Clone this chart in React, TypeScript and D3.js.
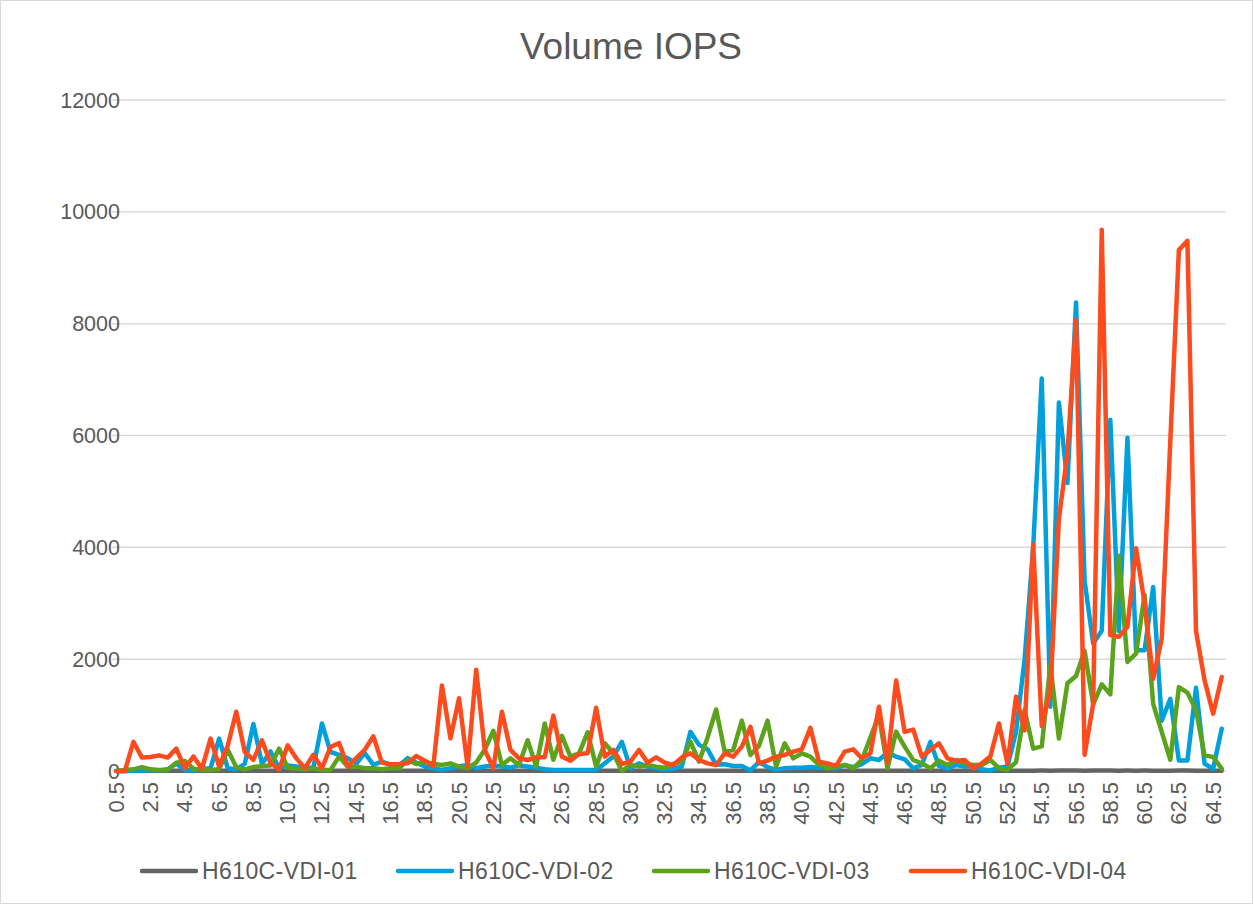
import React from "react";
import * as d3 from "d3";

const categories: number[] = d3.range(0.5, 65.01, 0.5);
const seriesNames = ["H610C-VDI-01", "H610C-VDI-02", "H610C-VDI-03", "H610C-VDI-04"];
const seriesColors = ["#646464", "#00A0DC", "#5BA31C", "#FD4B1E"];
const yTicks = [0, 2000, 4000, 6000, 8000, 10000, 12000];

const vdi01 = [
  0, 2, 3, 3, 4, 3, 4, 5, 4, 3,
  3, 4, 5, 4, 3, 4, 5, 4, 4, 3,
  4, 5, 4, 3, 5, 4, 4, 3, 4, 5,
  4, 3, 4, 4, 5, 4, 3, 4, 5, 4,
  4, 3, 5, 4, 4, 5, 4, 3, 4, 4,
  5, 4, 3, 4, 4, 5, 4, 4, 3, 4,
  5, 4, 4, 3, 4, 5, 4, 4, 5, 4,
  3, 4, 4, 5, 4, 4, 3, 4, 5, 4,
  4, 3, 4, 5, 4, 4, 5, 4, 3, 4,
  5, 4, 4, 3, 4, 5, 4, 4, 3, 4,
  5, 4, 3, 4, 4, 5, 6, 6, 7, 6,
  7, 8, 8, 6, 7, 8, 7, 6, 7, 6,
  7, 6, 5, 6, 7, 7, 6, 5, 5, 5,
];

const vdi02 = [
  0, 0, 10, 10, 20, 10, 30, 130, 20, 10,
  40, 50, 580, 50, 30, 130, 840, 130, 350, 50,
  100, 80, 60, 60, 850, 340, 290, 230, 130, 320,
  110, 170, 110, 100, 230, 150, 80, 50, 20, 50,
  80, 110, 50, 80, 100, 80, 60, 100, 80, 60,
  30, 20, 20, 20, 20, 20, 20, 137, 257, 520,
  48, 137, 80, 50, 20, 40, 80, 700, 470, 390,
  110, 120, 90, 90, 10, 160, 70, 20, 50, 60,
  60, 70, 60, 70, 50, 107, 70, 125, 227, 197,
  330, 257, 209, 48, 107, 520, 90, 40, 107, 78,
  90, 30, 10, 60, 80, 700, 2000, 4000, 7020, 1150,
  6590, 5150, 8380, 3400, 2280, 2510, 6280, 2500, 5960, 2160,
  2160, 3290, 900, 1290, 190, 190, 1490, 130, 40, 757,
];

const vdi03 = [
  0, 20, 30, 70, 30, 20, 20, 150, 180, 40,
  20, 20, 30, 380, 70, 30, 70, 90, 100, 400,
  60, 40, 30, 50, 20, 20, 257, 78, 78, 48,
  48, 30, 48, 48, 197, 125, 167, 125, 107, 137,
  78, 48, 150, 380, 720, 107, 227, 107, 550, 78,
  850, 200, 630, 257, 316, 690, 78, 495, 316, 0,
  107, 78, 107, 78, 60, 125, 167, 525, 167, 600,
  1100, 346, 376, 900, 287, 450, 900, 78, 495, 227,
  316, 257, 107, 48, 78, 107, 48, 197, 600, 1000,
  48, 704, 436, 197, 137, 48, 185, 107, 197, 137,
  107, 107, 197, 50, 20, 160, 1090, 400, 440, 1900,
  580, 1570, 1700, 2150, 1190, 1550, 1370, 3850, 1950, 2100,
  3150, 1200, 700, 200, 1500, 1400, 1090, 280, 250, 42,
];

const vdi04 = [
  0, 0, 520, 240, 250, 280, 240, 400, 50, 260,
  40, 580, 80, 450, 1060, 340, 200, 550, 140, 30,
  460, 230, 50, 290, 50, 430, 500, 80, 230, 380,
  620, 150, 120, 125, 137, 268, 185, 90, 1530, 585,
  1300, 78, 1810, 376, 48, 1060, 376, 227, 197, 245,
  245, 990, 257, 185, 304, 316, 1130, 257, 376, 125,
  167, 376, 150, 245, 150, 107, 245, 316, 197, 137,
  107, 316, 257, 436, 790, 137, 185, 257, 287, 346,
  388, 770, 167, 137, 90, 346, 388, 227, 316, 1150,
  150, 1620, 700, 740, 257, 376, 495, 227, 185, 197,
  48, 137, 257, 850, 131, 1330, 727, 4050, 800, 1442,
  4512, 5683, 8065, 290, 1200, 9680, 2430, 2400, 2580, 3985,
  3000, 1651, 2366, 5900, 9315, 9482, 2500, 1621, 1025, 1680,
];

const seriesData = [vdi01, vdi02, vdi03, vdi04];

const W = 1254;
const H = 906;
const FONT = "'Liberation Sans', Arial, sans-serif";
const TEXT = "#595959";

export default function App() {
  const x = d3
    .scaleBand<number>()
    .domain(categories)
    .range([112, 1226])
    .padding(0);
  const y = d3.scaleLinear().domain([0, 12000]).range([771, 100]);
  const cx = (c: number) => (x(c) as number) + x.bandwidth() / 2;

  const line = (vals: number[]) =>
    d3
      .line<number>()
      .x((_, i) => cx(categories[i]))
      .y((v) => y(v))(vals) as string;

  const xLabels = categories.filter((_, i) => i % 4 === 0);
  const legendX = [142, 398, 654, 911];

  return (
    <svg
      width={W}
      height={H}
      style={{ position: "absolute", left: 0, top: 0, background: "#fff" }}
      fontFamily={FONT}
    >
      <rect x={0.5} y={0.5} width={W - 2} height={H - 3} fill="#fff" stroke="#d9d9d9" />
      <text x={631} y={59} textAnchor="middle" fontSize={37} fill={TEXT}>
        Volume IOPS
      </text>
      {yTicks.map((t) => (
        <g key={t}>
          <line x1={112} x2={1226} y1={y(t)} y2={y(t)} stroke="#d9d9d9" strokeWidth={1.5} />
          <text x={120} y={y(t) + 7.5} textAnchor="end" fontSize={21.5} fill={TEXT}>
            {t}
          </text>
        </g>
      ))}
      {xLabels.map((c) => (
        <text
          key={c}
          transform={`translate(${cx(c) + 7.5},782) rotate(-90)`}
          textAnchor="end"
          fontSize={22}
          fill={TEXT}
        >
          {c.toFixed(1)}
        </text>
      ))}
      {seriesData.map((vals, k) => (
        <path
          key={k}
          d={line(vals)}
          fill="none"
          stroke={seriesColors[k]}
          strokeWidth={4.5}
          strokeLinejoin="round"
          strokeLinecap="round"
        />
      ))}
      {seriesNames.map((n, k) => (
        <g key={n}>
          <line
            x1={legendX[k]}
            x2={legendX[k] + 54}
            y1={871}
            y2={871}
            stroke={seriesColors[k]}
            strokeWidth={4.5}
            strokeLinecap="round"
          />
          <text x={legendX[k] + 60} y={879} fontSize={23} letterSpacing={0.4} fill={TEXT}>
            {n}
          </text>
        </g>
      ))}
    </svg>
  );
}
